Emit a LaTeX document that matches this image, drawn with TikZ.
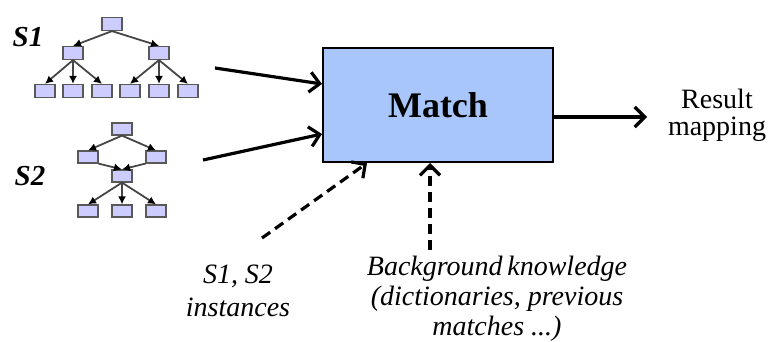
\documentclass[tikz,border=0pt]{standalone}
\usepackage{fontspec}
\setmainfont{Liberation Serif}
\usetikzlibrary{arrows.meta,positioning,calc}
\definecolor{matchblue}{RGB}{168,198,250}
\definecolor{treefill}{RGB}{204,204,255}

\begin{document}
\begin{tikzpicture}[x=1pt, y=-1pt]
  % Schema matching overview
  \tikzstyle{tnode} = [rectangle, fill=treefill, draw=gray!70!black, line width=1.2pt, minimum width=20pt, minimum height=13pt, inner sep=0pt]
  \tikzstyle{tedge} = [draw=gray!55!black, line width=1.8pt, -{Latex[length=8pt, width=8pt, color=black]}]
  \tikzstyle{matchbox} = [rectangle, fill=matchblue, draw=black, line width=2pt, minimum width=230pt, minimum height=114pt, font=\fontsize{36}{40}\selectfont\bfseries]
  \tikzstyle{txt} = [inner sep=0pt, align=center, font=\fontsize{28}{31}\selectfont]
  \tikzstyle{flow} = [line width=3.2pt, -{Straight Barb[length=10pt, width=20pt]}]
  \tikzstyle{hint} = [flow, dash pattern=on 10pt off 6pt]

  \useasboundingbox (0,0) rectangle (770,342);

  % Schema S1
  \node[txt, font=\fontsize{29}{31}\selectfont\bfseries\itshape] (s1lab) at (28,37) {S1};
  \node[tnode] (a0) at (112,24) {};
  \node[tnode] (a1) at (73,53) {};
  \node[tnode] (a2) at (159,53) {};
  \node[tnode] (a11) at (45,91) {};
  \node[tnode] (a12) at (73,91) {};
  \node[tnode] (a13) at (102,91) {};
  \node[tnode] (a21) at (130,91) {};
  \node[tnode] (a22) at (159,91) {};
  \node[tnode] (a23) at (188,91) {};
  \draw[tedge] (a0.south) -- (a1.north);
  \draw[tedge] (a0.south) -- (a2.north);
  \foreach \c in {a11,a12,a13} \draw[tedge] (a1.south) -- (\c.north);
  \foreach \c in {a21,a22,a23} \draw[tedge] (a2.south) -- (\c.north);

  % Schema S2
  \node[txt, font=\fontsize{29}{31}\selectfont\bfseries\itshape] (s2lab) at (30,176) {S2};
  \node[tnode, minimum height=12pt] (b0) at (122,129) {};
  \node[tnode, minimum height=12pt] (b1) at (88,157) {};
  \node[tnode, minimum height=12pt] (b2) at (156,157) {};
  \node[tnode, minimum height=12pt] (bm) at (122,176) {};
  \node[tnode, minimum height=12pt] (b31) at (88,211) {};
  \node[tnode, minimum height=12pt] (b32) at (122,211) {};
  \node[tnode, minimum height=12pt] (b33) at (156,211) {};
  \draw[tedge] (b0.south) -- (b1.north);
  \draw[tedge] (b0.south) -- (b2.north);
  \draw[tedge] (b1.south east) -- (bm.north);
  \draw[tedge] (b2.south west) -- (bm.north);
  \foreach \c in {b31,b32,b33} \draw[tedge] (bm.south) -- (\c.north);

  % Match operator
  \node[matchbox] (match) at (438,105) {Match};
  \node[txt] (result) at (717,115) {Result\\[-4pt]mapping};
  \node[txt, font=\fontsize{28}{33}\selectfont\itshape] (inst) at (238,291) {S1, S2\\instances};
  \node[txt, font=\fontsize{28}{30}\selectfont\itshape] (bk) at (497,299) {Background\,knowledge\\(dictionaries, previous\\matches ...)};

  % Connectors
  \coordinate (s1out) at (215,68);
  \coordinate (s2out) at (203,160);
  \coordinate (instout) at (262,238);
  \coordinate (bkout) at (430,250);
  \coordinate (resin) at (647,117);
  \draw[flow] (s1out) -- ([yshift=-37pt]match.north west);
  \draw[flow] (s2out) -- ([yshift=29pt]match.south west);
  \draw[hint] (instout) -- ([xshift=45pt]match.south west);
  \draw[hint] (bkout) -- ([xshift=-8pt]match.south);
  \draw[flow] ([yshift=-12pt]match.east) -- (resin);
\end{tikzpicture}
\end{document}
